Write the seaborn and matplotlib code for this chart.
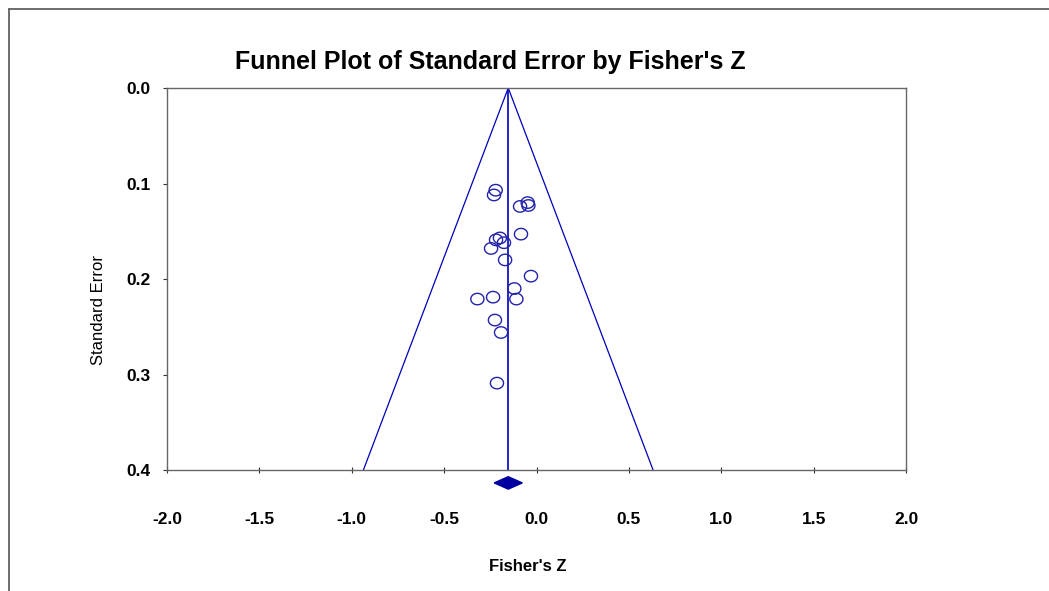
import numpy as np
import pandas as pd
import seaborn as sns
import matplotlib.pyplot as plt
from matplotlib.lines import Line2D

# study estimates
fisher_z = [-0.221, -0.230, -0.089, -0.048, -0.044, -0.084, -0.198, -0.219, -0.176,
            -0.246, -0.170, -0.030, -0.120, -0.320, -0.235, -0.109, -0.225, -0.192, -0.214]
std_err = [0.107, 0.112, 0.124, 0.120, 0.123, 0.153, 0.157, 0.159, 0.162,
           0.168, 0.180, 0.197, 0.210, 0.221, 0.219, 0.221, 0.243, 0.256, 0.309]

# pooled estimate and its confidence interval (the diamond)
pooled_z = -0.153
pooled_ci = [-0.229, -0.077]

x_ticks = [-2.0, -1.5, -1.0, -0.5, 0.0, 0.5, 1.0, 1.5, 2.0]
y_ticks = [0.0, 0.1, 0.2, 0.3, 0.4]

df = pd.DataFrame({"Fisher's Z": fisher_z, "Standard Error": std_err})

sns.set_style("white")
plt.rcParams['font.family'] = ['Liberation Sans', 'DejaVu Sans']
plt.rcParams['text.color'] = 'black'
plt.rcParams['axes.labelcolor'] = 'black'
plt.rcParams['xtick.color'] = 'black'
plt.rcParams['ytick.color'] = 'black'

fig = plt.figure(figsize=(10.49, 5.91), dpi=100)
ax = fig.add_axes([0.1592, 0.2047, 0.7045, 0.6464])

# frame lines round the chart (left and top only)
fig.add_artist(Line2D([0.0086, 0.0086], [0.0, 0.985], color='#555555', lw=1.2))
fig.add_artist(Line2D([0.0086, 1.0], [0.985, 0.985], color='#555555', lw=1.2))

blue = '#0000bb'
z_se = 1.96
se_max = y_ticks[-1]

# funnel and centre line
ax.plot([pooled_z - z_se * se_max, pooled_z, pooled_z + z_se * se_max],
        [se_max, 0.0, se_max], color=blue, lw=0.9)
ax.plot([pooled_z, pooled_z], [0.0, se_max], color=blue, lw=1.2)

# ellipse-shaped open markers
t = np.linspace(0, 2 * np.pi, 40)
ell = np.column_stack([1.15 * np.cos(t), np.sin(t)])
sns.scatterplot(data=df, x="Fisher's Z", y="Standard Error", ax=ax,
                marker=ell, s=90, facecolors='none', edgecolor='#2222aa',
                linewidth=1.0, zorder=3)

# pooled diamond below the axis
dy = 0.0065
yd = se_max + 0.0135
ax.fill([pooled_ci[0], pooled_z, pooled_ci[1], pooled_z],
        [yd, yd - dy, yd, yd + dy], color='#0000a0', clip_on=False, zorder=4)

ax.set_xlim(x_ticks[0], x_ticks[-1])
ax.set_ylim(se_max, 0.0)
ax.set_xticks(x_ticks)
ax.set_yticks(y_ticks)
ax.set_xticklabels([f'{v:.1f}' for v in x_ticks], fontweight='bold', fontsize=12.5)
ax.set_yticklabels([f'{v:.1f}' for v in y_ticks], fontweight='bold', fontsize=12.5)
ax.tick_params(axis='x', bottom=True, direction='inout', length=4, width=0.8,
               color='#333333', pad=28)
ax.tick_params(axis='y', left=True, direction='out', length=3, width=0.8,
               color='#333333', pad=9)
for sp in ax.spines.values():
    sp.set_color('#666666')
    sp.set_linewidth(1.0)

ax.set_xlabel("Fisher's Z", fontweight='bold', fontsize=12)
ax.set_ylabel('Standard Error', fontsize=12)
ax.xaxis.set_label_coords(0.4885, -0.232)
ax.yaxis.set_label_coords(-0.083, 0.42)
ax.set_title("Funnel Plot of Standard Error by Fisher's Z", fontweight='bold',
             fontsize=18, x=0.437, pad=14)

fig.savefig('out.png', dpi=100)
